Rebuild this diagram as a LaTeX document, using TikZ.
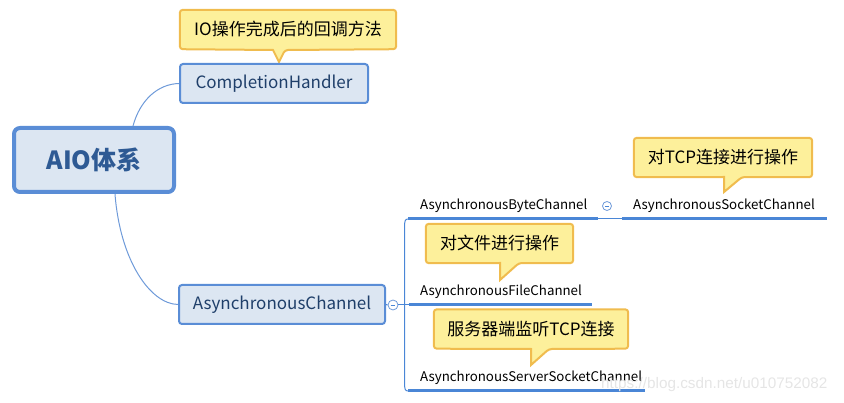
\documentclass[tikz,border=0pt]{standalone}
\usepackage{fontspec}
\setmainfont{Noto Sans CJK SC}
\newfontfamily\wmfont{Liberation Sans}
\usetikzlibrary{backgrounds}
\definecolor{boxfill}{HTML}{DCE6F2}
\definecolor{boxline}{HTML}{5A8DD6}
\definecolor{boxtext}{HTML}{1F3F6A}
\definecolor{roottext}{HTML}{2E5A94}
\definecolor{callfill}{HTML}{FDF09B}
\definecolor{callline}{HTML}{F0BC4E}
\definecolor{conn}{HTML}{6E9AD9}
\definecolor{uline}{HTML}{4A86D6}
\tikzset{
  rootbox/.style={draw=boxline, fill=boxfill, line width=4pt, rounded corners=6pt,
    minimum width=160pt, minimum height=64pt, text=roottext,
    font=\fontsize{25}{30}\selectfont\bfseries},
  topicbox/.style={draw=boxline, fill=boxfill, line width=2pt, rounded corners=3pt,
    minimum height=39pt, text=boxtext, font=\fontsize{17}{20}\selectfont},
  calltext/.style={minimum height=39pt, text=black, font=\fontsize{17}{20}\selectfont},
  callshape/.style={draw=callline, fill=callfill, line width=2pt, rounded corners=3pt},
  leaf/.style={anchor=west, inner sep=0pt, text=black, font=\fontsize{13.3}{16}\selectfont},
  conline/.style={draw=conn, line width=1pt},
  underl/.style={draw=uline, line width=3pt},
  thinl/.style={draw=uline, line width=1pt},
  toggle/.style={circle, draw=conn, fill=white, line width=0.8pt, minimum size=10pt, inner sep=0pt}
}
\begin{document}
\begin{tikzpicture}[x=1pt,y=-1pt]
\useasboundingbox (0,0) rectangle (844,403);
% main nodes
\node[rootbox] (root) at (94,160) {AIO体系};
\node[topicbox, minimum width=188pt] (ch) at (274,83.5) {CompletionHandler};
\node[topicbox, minimum width=206pt] (ac) at (282,304.5) {AsynchronousChannel};
% connectors from root
\draw[conline] (133,126) .. controls (140,100) and (158,84) .. (ch.west);
\draw[conline] (115,194) .. controls (120,260) and (150,304) .. (ac.west);
% toggle and bracket
\node[toggle] (t1) at (393,305) {};
\draw[thinl] (ac.east) -- (t1.west);
\coordinate (b1) at (408,219);
\coordinate (b2) at (598,219);
\coordinate (f1) at (409,305);
\coordinate (f2) at (592,305);
\coordinate (s1) at (408,391);
\coordinate (s2) at (645,391);
\coordinate (k1) at (622,219);
\coordinate (k2) at (827,219);
\draw[thinl] (t1.east) -- (f1);
\draw[thinl] (b1) .. controls (405,219) and (404.5,221) .. (404.5,228) -- (404.5,382) .. controls (404.5,389) and (405,391) .. (s1);
\draw[underl] (b1) -- (b2);
\draw[underl] (f1) -- (f2);
\draw[underl] (s1) -- (s2);
\draw[underl] (k1) -- (k2);
\draw[thinl] (b2) -- (k1);
\node[toggle, minimum size=9pt] (t2) at (607,206) {};
\draw[uline, line width=0.8pt] ([xshift=-2.2pt]t2.center) -- ([xshift=2.2pt]t2.center);
\draw[uline, line width=0.8pt] ([xshift=-2.4pt]t1.center) -- ([xshift=2.4pt]t1.center);
% leaves
\node[leaf] (abc) at (420,206) {AsynchronousByteChannel};
\node[leaf] (afc) at (420,292) {AsynchronousFileChannel};
\node[leaf] (assc) at (420,377.5) {AsynchronousServerSocketChannel};
\node[leaf] (asc) at (633,206) {AsynchronousSocketChannel};
% callouts
\node[calltext, minimum width=216pt] (c1) at (288,29.5) {IO操作完成后的回调方法};
\node[calltext, minimum width=178pt] (c2) at (723,157.5) {对TCP连接进行操作};
\node[calltext, minimum width=147pt] (c3) at (499.5,243.5) {对文件进行操作};
\node[calltext, minimum width=194pt] (c4) at (531,329) {服务器端监听TCP连接};
\begin{scope}[on background layer]
\draw[callshape] (c1.south west) -- (c1.north west) -- (c1.north east) -- (c1.south east) -- (285,50) [sharp corners] -- (279,62) -- (273,50) [rounded corners=3pt] -- cycle;
\draw[callshape] (c2.south west) -- (c2.north west) -- (c2.north east) -- (c2.south east) -- (742,177) [sharp corners] -- (724,192) -- (724,177) [rounded corners=3pt] -- cycle;
\draw[callshape] (c3.south west) -- (c3.north west) -- (c3.north east) -- (c3.south east) -- (519,263) [sharp corners] -- (500,280) -- (500,263) [rounded corners=3pt] -- cycle;
\draw[callshape] (c4.south west) -- (c4.north west) -- (c4.north east) -- (c4.south east) -- (549,349) [sharp corners] -- (531,365) -- (531,349) [rounded corners=3pt] -- cycle;
\end{scope}
% watermark
\node[anchor=west, inner sep=0pt, text=black!10, font=\wmfont\fontsize{15.3}{18}\selectfont] (wm) at (601,385) {https://blog.csdn.net/u010752082};
\end{tikzpicture}
\end{document}
